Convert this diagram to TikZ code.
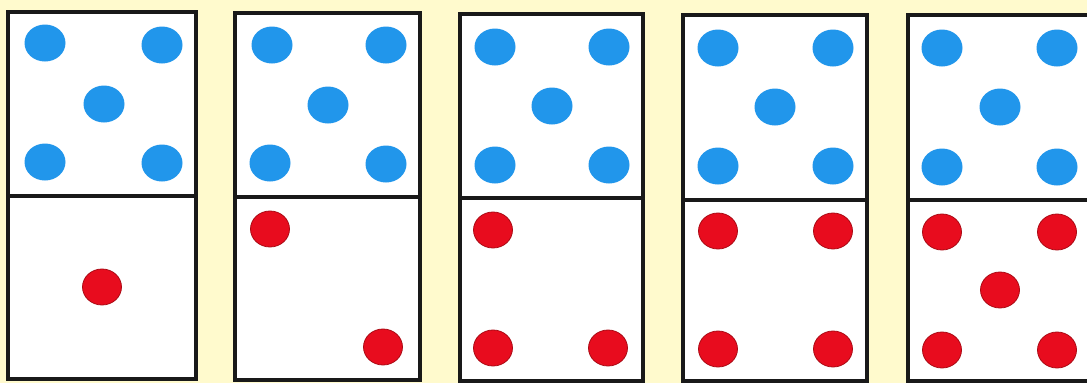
\documentclass[tikz,border=0pt]{standalone}
\definecolor{bgyellow}{RGB}{255,250,205}
\definecolor{pipblue}{RGB}{33,150,235}
\definecolor{pipred}{RGB}{232,12,30}
\definecolor{pipredge}{RGB}{170,10,20}
\tikzset{
  tile/.style={draw=black!90, line width=3.2pt, fill=white},
  bluepip/.style={fill=pipblue},
  redpip/.style={fill=pipred, draw=pipredge, line width=0.8pt},
}
\newcommand{\bp}[2]{\fill[bluepip] (#1,#2) ellipse [x radius=20.5, y radius=18.5];}
\newcommand{\rp}[2]{\filldraw[redpip] (#1,#2) ellipse [x radius=19.5, y radius=18];}
\begin{document}
\begin{tikzpicture}[x=1pt,y=-1pt]
\fill[bgyellow] (0,0) rectangle (1087,383);
\useasboundingbox (0,0) rectangle (1087,383);
% domino 1
\draw[tile] (8,12) rectangle (196,379);
\draw[tile] (8,196) -- (196,196);
\bp{45}{43}\bp{162}{45}\bp{104}{104}\bp{45}{162}\bp{162}{163}
\rp{102}{287}
% domino 2
\draw[tile] (235,13) rectangle (420,380);
\draw[tile] (235,197) -- (420,197);
\bp{272}{45}\bp{386}{45}\bp{328}{105}\bp{270}{163}\bp{386}{164}
\rp{270}{229}\rp{383}{347}
% domino 3
\draw[tile] (460,14) rectangle (643,381);
\draw[tile] (460,198) -- (643,198);
\bp{495}{47}\bp{609}{47}\bp{552}{106}\bp{495}{165}\bp{609}{165}
\rp{493}{230}\rp{493}{348}\rp{608}{348}
% domino 4
\draw[tile] (683,15) rectangle (867,381);
\draw[tile] (683,200) -- (867,200);
\bp{718}{48}\bp{833}{48}\bp{775}{107}\bp{718}{166}\bp{833}{166}
\rp{718}{231}\rp{833}{231}\rp{718}{349}\rp{833}{349}
% domino 5
\draw[tile] (908,15) rectangle (1093,381);
\draw[tile] (908,200) -- (1093,200);
\bp{942}{48}\bp{1057}{48}\bp{1000}{107}\bp{942}{167}\bp{1057}{167}
\rp{942}{232}\rp{1057}{232}\rp{1000}{290}\rp{942}{350}\rp{1057}{350}
\end{tikzpicture}
\end{document}
